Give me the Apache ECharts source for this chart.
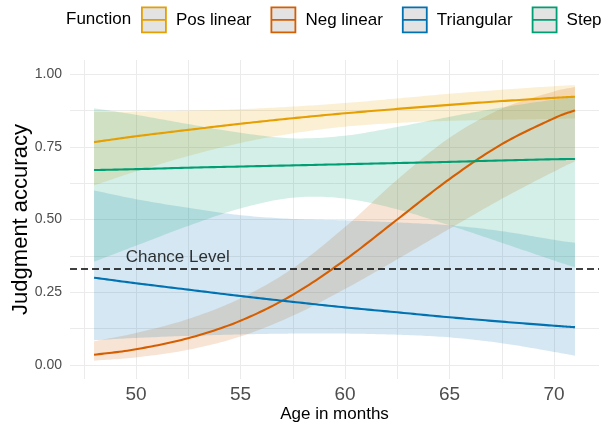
<!DOCTYPE html>
<html><head><meta charset="utf-8">
<script src="https://cdn.jsdelivr.net/npm/echarts@6/dist/echarts.min.js"></script>
<style>html,body{margin:0;padding:0;background:#fff}#c{width:604px;height:427px}</style>
</head><body><div id="c"></div>
<script>
// ---- data ----
const ages = [48, 50, 52.5, 55, 57.5, 60, 62.5, 65, 67.5, 70, 71];
const functionNames = ['Pos linear', 'Neg linear', 'Triangular', 'Step'];
const functionColors = ['#E69F00', '#D55E00', '#0072B2', '#009E73'];

const posFit   = [0.766, 0.786, 0.808, 0.829, 0.848, 0.865, 0.880, 0.894, 0.907, 0.918, 0.922];
const posLower = [0.617, 0.665, 0.718, 0.763, 0.796, 0.819, 0.832, 0.839, 0.843, 0.846, 0.847];
const posUpper = [0.869, 0.871, 0.874, 0.879, 0.888, 0.900, 0.916, 0.932, 0.946, 0.958, 0.962];

const negFit   = [0.035, 0.054, 0.092, 0.152, 0.241, 0.361, 0.500, 0.639, 0.759, 0.848, 0.875];
const negLower = [0.015, 0.026, 0.052, 0.098, 0.169, 0.261, 0.363, 0.468, 0.571, 0.665, 0.700];
const negUpper = [0.082, 0.110, 0.158, 0.229, 0.332, 0.474, 0.637, 0.781, 0.881, 0.940, 0.955];

const triFit   = [0.300, 0.281, 0.259, 0.237, 0.217, 0.198, 0.181, 0.164, 0.149, 0.135, 0.130];
const triLower = [0.085, 0.093, 0.100, 0.105, 0.108, 0.108, 0.104, 0.095, 0.075, 0.045, 0.032];
const triUpper = [0.600, 0.570, 0.540, 0.515, 0.502, 0.497, 0.490, 0.480, 0.460, 0.430, 0.420];

const stepFit   = [0.670, 0.673, 0.678, 0.682, 0.686, 0.690, 0.694, 0.698, 0.703, 0.707, 0.708];
const stepLower = [0.355, 0.410, 0.478, 0.538, 0.575, 0.572, 0.535, 0.480, 0.420, 0.359, 0.336];
const stepUpper = [0.882, 0.860, 0.828, 0.798, 0.779, 0.788, 0.818, 0.853, 0.885, 0.912, 0.921];

const xTickLabels = [50, 55, 60, 65, 70];
const yTickLabels = ['0.00', '0.25', '0.50', '0.75', '1.00'];
const chanceLevel = 1 / 3;
const chanceLabelPos = [52, 0.37];
const chanceLabelText = 'Chance Level';

// ---- build ----
const fits = [posFit, negFit, triFit, stepFit];
const lowers = [posLower, negLower, triLower, stepLower];
const uppers = [posUpper, negUpper, triUpper, stepUpper];
const FONT = '"Liberation Sans", Arial, sans-serif';

function hexA(hex, a) {
  const n = parseInt(hex.slice(1), 16);
  return 'rgba(' + (n >> 16) + ',' + ((n >> 8) & 255) + ',' + (n & 255) + ',' + a + ')';
}

// Catmull-Rom rendering of pixel points (drawing only; data untouched)
function smoothPx(p) {
  const out = [];
  const n = p.length;
  const get = i => p[Math.max(0, Math.min(n - 1, i))];
  for (let i = 0; i < n - 1; i++) {
    const p0 = i === 0 ? [2 * p[0][0] - p[1][0], 2 * p[0][1] - p[1][1]] : get(i - 1);
    const p1 = get(i), p2 = get(i + 1);
    const p3 = i + 2 > n - 1 ? [2 * p[n - 1][0] - p[n - 2][0], 2 * p[n - 1][1] - p[n - 2][1]] : get(i + 2);
    const steps = 16;
    for (let s = 0; s < steps; s++) {
      const t = s / steps, t2 = t * t, t3 = t2 * t;
      const f = (a, b, c, d) => 0.5 * ((2 * b) + (-a + c) * t + (2 * a - 5 * b + 4 * c - d) * t2 + (-a + 3 * b - 3 * c + d) * t3);
      out.push([f(p0[0], p1[0], p2[0], p3[0]), f(p0[1], p1[1], p2[1], p3[1])]);
    }
  }
  out.push(p[n - 1]);
  return out;
}

const series = [];
functionNames.forEach((name, k) => {
  series.push({
    type: 'custom', name: name + ' band', coordinateSystem: 'cartesian2d', xAxisIndex: 0, yAxisIndex: 0,
    data: [[ages[0], lowers[k][0]]], silent: true, z: 1, clip: true,
    renderItem: function (params, api) {
      const up = ages.map((a, i) => api.coord([a, uppers[k][i]]));
      const lo = ages.map((a, i) => api.coord([a, lowers[k][i]]));
      const pts = smoothPx(up).concat(smoothPx(lo).reverse());
      return { type: 'polygon', shape: { points: pts }, style: { fill: hexA(functionColors[k], 0.17), stroke: null } };
    }
  });
});
functionNames.forEach((name, k) => {
  series.push({
    type: 'custom', name: name, coordinateSystem: 'cartesian2d', xAxisIndex: 0, yAxisIndex: 0,
    data: [[ages[0], fits[k][0]]], silent: true, z: 3, clip: true,
    itemStyle: { color: functionColors[k] },
    renderItem: function (params, api) {
      const pts = smoothPx(ages.map((a, i) => api.coord([a, fits[k][i]])));
      return { type: 'polyline', shape: { points: pts }, style: { stroke: functionColors[k], lineWidth: 2.1, fill: null } };
    }
  });
});
series.push({
  type: 'scatter', name: 'chance', xAxisIndex: 0, yAxisIndex: 0,
  data: [chanceLabelPos], symbolSize: 1, itemStyle: { color: 'rgba(0,0,0,0)' }, silent: true,
  label: { show: true, position: 'inside', formatter: chanceLabelText, fontSize: 17, color: '#000', fontFamily: FONT },
  markLine: {
    silent: true, symbol: ['none', 'none'], label: { show: false },
    lineStyle: { color: '#000', type: [7, 4], width: 1.6 },
    data: [{ yAxis: chanceLevel }]
  },
  z: 4
});

const iconPath = 'path://M0,0H24V25H0Z M0,12.5H24';

const option = {
  animation: false,
  backgroundColor: '#fff',
  textStyle: { fontFamily: FONT },
  title: {
    text: 'Function', left: 66, top: 11, padding: 0,
    textStyle: { fontSize: 17, fontWeight: 'normal', color: '#000', fontFamily: FONT }
  },
  legend: {
    left: 141, top: 6.5, padding: 0, orient: 'horizontal',
    itemWidth: 24, itemHeight: 25, itemGap: 19,
    textStyle: { fontSize: 17, color: '#000', fontFamily: FONT, padding: [2, 0, 0, 5] },
    data: functionNames.map((n, k) => ({
      name: n, icon: iconPath,
      itemStyle: { color: '#E3E3E3', borderColor: functionColors[k], borderWidth: 1.8 }
    }))
  },
  grid: [
    { left: 70, right: 5, top: 74, bottom: 62, outerBoundsMode: 'none', containLabel: false },
    { left: 83.75, right: 50, top: 60, bottom: 48, outerBoundsMode: 'none', containLabel: false }
  ],
  xAxis: [
    {
      gridIndex: 0, type: 'value', min: 46.85, max: 72.15,
      axisLine: { show: false }, axisTick: { show: false }, axisLabel: { show: false }, splitLine: { show: false },
      name: 'Age in months', nameLocation: 'middle', nameGap: 41, nameMoveOverlap: false,
      nameTextStyle: { fontSize: 17, color: '#000', fontFamily: FONT }
    },
    {
      gridIndex: 1, type: 'value', min: 47.5, max: 70, interval: 2.5,
      axisLine: { show: false }, axisTick: { show: false },
      splitLine: { show: true, lineStyle: { color: '#EBEBEB', width: 1 } },
      axisLabel: {
        show: true, margin: 6, fontSize: 19, color: '#4D4D4D', fontFamily: FONT,
        formatter: v => (xTickLabels.indexOf(v) >= 0 ? String(v) : '')
      }
    }
  ],
  yAxis: [
    {
      gridIndex: 0, type: 'value', min: 0, max: 1, interval: 0.25,
      axisLine: { show: false }, axisTick: { show: false },
      splitLine: { show: true, lineStyle: { color: '#EBEBEB', width: 1 } },
      minorTick: { show: false, splitNumber: 2 },
      minorSplitLine: { show: true, lineStyle: { color: '#EBEBEB', width: 1 } },
      axisLabel: {
        margin: 8, fontSize: 14, color: '#4D4D4D', fontFamily: FONT,
        formatter: v => yTickLabels[Math.round(v / 0.25)]
      },
      name: 'Judgment accuracy', nameLocation: 'middle', nameGap: 38, nameMoveOverlap: false,
      nameTextStyle: { fontSize: 22, color: '#000', fontFamily: FONT }
    },
    { gridIndex: 1, type: 'value', min: 0, max: 1, show: false, splitLine: { show: false } }
  ],
  series: series
};

const chart = echarts.init(document.getElementById('c'), null, { renderer: 'canvas' });
chart.setOption(option);
</script>
</body></html>
